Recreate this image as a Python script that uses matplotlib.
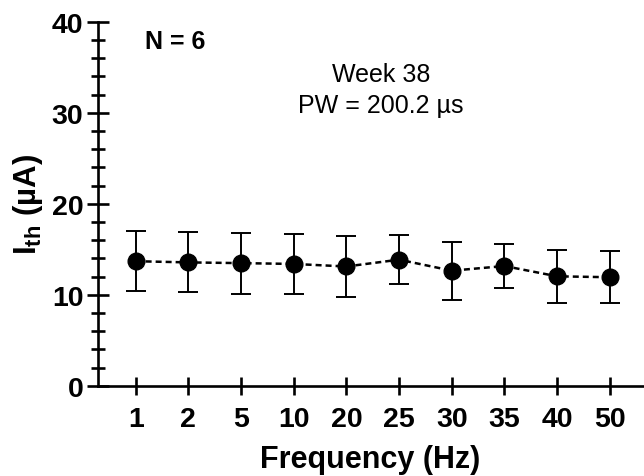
import matplotlib
matplotlib.use('Agg')
import matplotlib.pyplot as plt
from matplotlib.ticker import MultipleLocator

plt.rcParams['font.family'] = ['Liberation Sans', 'DejaVu Sans']
plt.rcParams['mathtext.fontset'] = 'custom'
plt.rcParams['mathtext.rm'] = 'Liberation Sans'
plt.rcParams['mathtext.bf'] = 'Liberation Sans:bold'

# data
freq_labels = ['1', '2', '5', '10', '20', '25', '30', '35', '40', '50']
ith_mean = [13.68, 13.55, 13.47, 13.38, 13.1, 13.85, 12.64, 13.15, 12.02, 11.92]
ith_sd = [3.3, 3.3, 3.35, 3.3, 3.35, 2.72, 3.2, 2.45, 2.9, 2.88]

fig = plt.figure(figsize=(6.44, 4.77), dpi=100)
ax = fig.add_axes([97.7 / 644, 90.3 / 477, (643 - 97.7) / 644, (386.7 - 22.7) / 477])

x = list(range(len(freq_labels)))

# dashed connecting line
ax.plot(x, ith_mean, color='black', lw=1.8, linestyle=(0, (2.4, 1.6)), zorder=2)
# error bars + markers
ax.errorbar(x, ith_mean, yerr=ith_sd, fmt='o', color='black', ms=12,
            elinewidth=1.4, capsize=7.5, capthick=1.4, zorder=3)

ax.set_xlim(-0.72, 9.63)
ax.set_ylim(0, 40)
ax.set_xticks(x)
ax.set_xticklabels(freq_labels)
ax.yaxis.set_major_locator(MultipleLocator(10))
ax.yaxis.set_minor_locator(MultipleLocator(2))

for side in ['top', 'right']:
    ax.spines[side].set_visible(False)
for side in ['left', 'bottom']:
    ax.spines[side].set_linewidth(1.9)

ax.tick_params(axis='both', which='major', direction='inout', length=16.5, width=1.9,
               labelsize=20.5, pad=2)
ax.tick_params(axis='x', which='major', length=13, pad=8)
ax.tick_params(axis='y', which='minor', direction='inout', length=9.5, width=1.9)
for lab in ax.get_xticklabels() + ax.get_yticklabels():
    lab.set_fontweight('bold')

ax.set_xlabel('Frequency (Hz)', fontsize=22, fontweight='bold', labelpad=9)
ax.set_ylabel(r'$\mathbf{I_{th}}$ (µA)', fontsize=22.5, fontweight='bold', labelpad=5)

ax.text(145 / 644, 1 - 42 / 477, 'N = 6', transform=fig.transFigure, fontsize=18,
        fontweight='bold', ha='left', va='center')
ax.text(381 / 644, 1 - 75 / 477, 'Week 38', transform=fig.transFigure, fontsize=18,
        ha='center', va='center')
ax.text(381 / 644, 1 - 106 / 477, 'PW = 200.2 µs', transform=fig.transFigure,
        fontsize=18, ha='center', va='center')

fig.savefig('out.png', dpi=100)
